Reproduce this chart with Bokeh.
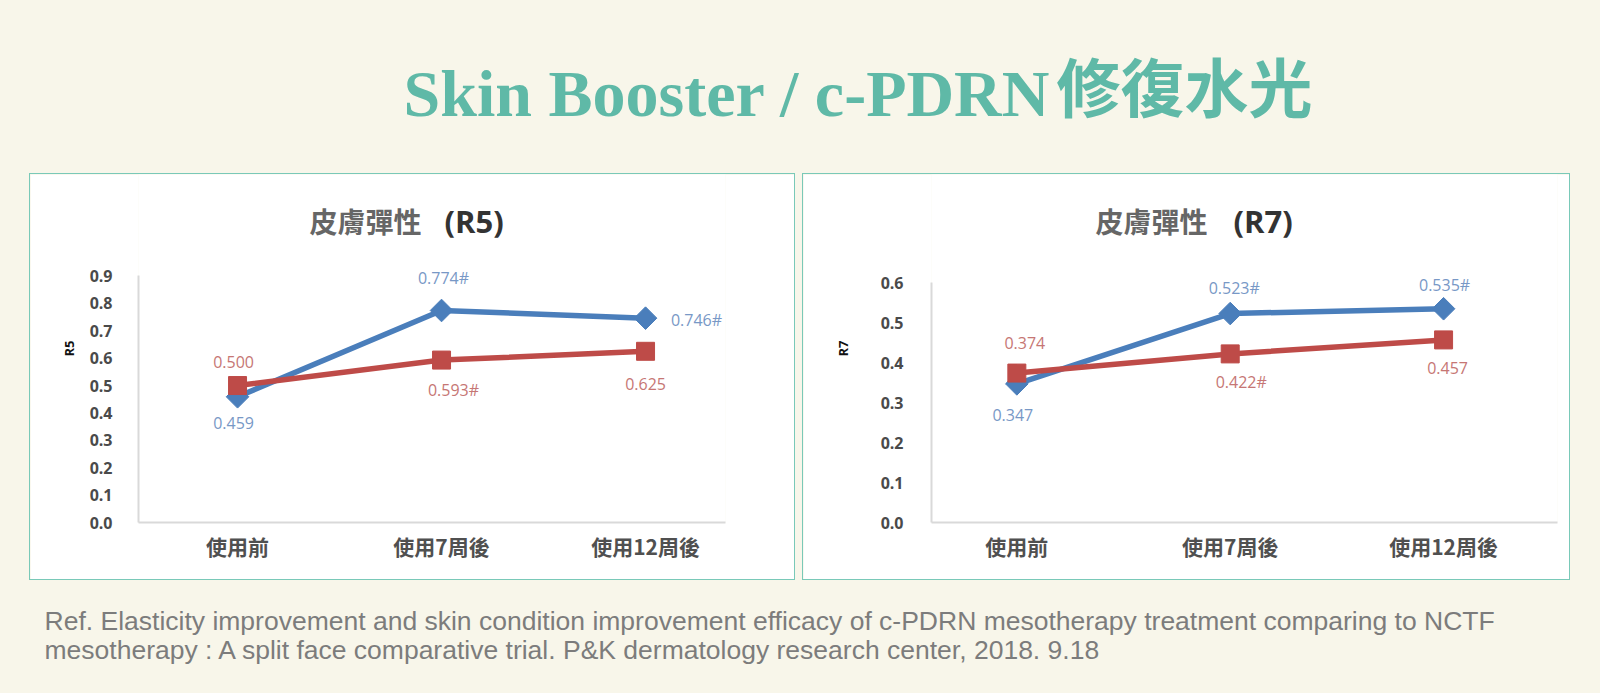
import math
from bokeh.plotting import figure
from bokeh.layouts import column, row
from bokeh.models import (ColumnDataSource, Label, FixedTicker, Range1d,
                          PrintfTickFormatter, Spacer)
from bokeh.core.properties import value
from bokeh.embed import file_html
from bokeh.resources import INLINE

BG = "#f8f6ea"
TEAL = "#5fb9a7"
BORDER = "#79c9b8"
BLUE = "#4a7ebb"
RED = "#be4b48"
BLUE_LBL = "#7898c6"
RED_LBL = "#c67674"
AXIS = "#d9d9d9"
TICK = "#4a4a4a"
CAT = "#505050"

# ---------------- data ----------------
title_latin = "Skin Booster / c-PDRN"
title_cjk = "修復水光"
categories = ["使用前", "使用7周後", "使用12周後"]
cat_pos = [0, 1, 2]

panel_name = "皮膚彈性"
r5_code = "(R5)"
r5_axis = "R5"
r5_blue = [0.459, 0.774, 0.746]
r5_red = [0.500, 0.593, 0.625]
r5_blue_mark = ["", "#", "#"]
r5_red_mark = ["", "#", ""]
r5_ticks = [0.0, 0.1, 0.2, 0.3, 0.4, 0.5, 0.6, 0.7, 0.8, 0.9]

r7_code = "(R7)"
r7_axis = "R7"
r7_blue = [0.347, 0.523, 0.535]
r7_red = [0.374, 0.422, 0.457]
r7_blue_mark = ["", "#", "#"]
r7_red_mark = ["", "#", ""]
r7_ticks = [0.0, 0.1, 0.2, 0.3, 0.4, 0.5, 0.6]

footer_lines = [
    "Ref. Elasticity improvement and skin condition improvement efficacy of c-PDRN mesotherapy treatment comparing to NCTF",
    "mesotherapy : A split face comparative trial. P&K dermatology research center, 2018. 9.18",
]

# label offsets in pixels (dx, dy downward)
r5_blue_off = [(-4, 26), (2, -32), (51, 2)]
r5_red_off = [(-4, -24), (12, 30), (0, 33)]
r7_blue_off = [(-4, 31), (4, -26), (1, -24)]
r7_red_off = [(8, -30), (11, 28), (4, 28)]


def strip(w, h, color):
    return Spacer(width=w, height=h, styles={"background-color": color})


def make_panel(w, h, code, axis_name, blue, red, bmark, rmark, ticks, xr, y_end,
               borders, title_pos, lab_standoff, axlab_standoff, boff, roff):
    p = figure(width=w, height=h, output_backend="svg", toolbar_location=None,
               x_range=Range1d(*xr), y_range=Range1d(0, y_end),
               min_border_left=borders[0], min_border_right=borders[1],
               min_border_top=borders[2], min_border_bottom=borders[3],
               background_fill_color="white", border_fill_color="white",
               outline_line_color=None)
    p.xgrid.visible = False
    p.ygrid.visible = False

    # panel title: two parts, positioned relative to the frame
    tx, ty, tx2 = title_pos
    p.add_layout(Label(x=tx, y=ty, x_units="screen", y_units="screen",
                       text=panel_name, text_font="Noto Sans CJK TC",
                       text_font_style="bold", text_font_size="28px",
                       text_color="#666666", text_baseline="middle"))
    p.add_layout(Label(x=tx2, y=ty, x_units="screen", y_units="screen",
                       text=code, text_font="Open Sans",
                       text_font_style="bold", text_font_size="31px",
                       text_color="#333333", text_baseline="middle"))

    p.xaxis.ticker = FixedTicker(ticks=cat_pos)
    p.xaxis.major_label_overrides = {c: t for c, t in zip(cat_pos, categories)}
    p.xaxis.major_label_text_font = "Noto Sans CJK TC"
    p.xaxis.major_label_text_font_style = "bold"
    p.xaxis.major_label_text_font_size = "21px"
    p.xaxis.major_label_text_color = CAT
    p.xaxis.major_label_standoff = 2

    p.yaxis.ticker = FixedTicker(ticks=ticks)
    p.yaxis.bounds = (ticks[0], ticks[-1])
    p.yaxis.formatter = PrintfTickFormatter(format="%.1f")
    p.yaxis.major_label_text_font = "Open Sans"
    p.yaxis.major_label_text_font_style = "bold"
    p.yaxis.major_label_text_font_size = "16px"
    p.yaxis.major_label_text_color = TICK
    p.yaxis.major_label_standoff = lab_standoff
    p.yaxis.axis_label = axis_name
    p.yaxis.axis_label_text_font = "Open Sans"
    p.yaxis.axis_label_text_font_style = "bold"
    p.yaxis.axis_label_text_font_size = "13px"
    p.yaxis.axis_label_text_color = "#111111"
    p.yaxis.axis_label_standoff = axlab_standoff

    for ax in (p.xaxis, p.yaxis):
        ax.axis_line_color = AXIS
        ax.axis_line_width = 2
        ax.major_tick_line_color = None
        ax.minor_tick_line_color = None

    src_b = ColumnDataSource(dict(
        x=cat_pos, y=blue,
        t=[f"{v:.3f}{m}" for v, m in zip(blue, bmark)],
        dx=[o[0] for o in boff], dy=[o[1] for o in boff]))
    src_r = ColumnDataSource(dict(
        x=cat_pos, y=red,
        t=[f"{v:.3f}{m}" for v, m in zip(red, rmark)],
        dx=[o[0] for o in roff], dy=[o[1] for o in roff]))

    p.line("x", "y", source=src_b, line_color=BLUE, line_width=5.5)
    p.scatter("x", "y", source=src_b, marker="square", angle=math.pi / 4,
              size=16, fill_color=BLUE, line_color=BLUE)
    p.line("x", "y", source=src_r, line_color=RED, line_width=5.5)
    p.scatter("x", "y", source=src_r, marker="square", size=18,
              fill_color=RED, line_color=RED)

    for src, col in ((src_b, BLUE_LBL), (src_r, RED_LBL)):
        p.text("x", "y", text="t", x_offset="dx", y_offset="dy", source=src,
               text_align="center", text_baseline="middle",
               text_font=value("Open Sans"), text_font_size="16px",
               text_color=col)
    return p


# frame spans the full inner height above the x axis (title sits inside it);
# the y axis line is limited to the tick range via bounds
left = make_panel(764, 405, r5_code, r5_axis, r5_blue, r5_red, r5_blue_mark,
                  r5_red_mark, r5_ticks, (-0.4855, 2.392), 1.2705,
                  (108, 69, 0, 57), (171, 302, 306), 20, 9,
                  r5_blue_off, r5_red_off)
right = make_panel(766, 405, r7_code, r7_axis, r7_blue, r7_red, r7_blue_mark,
                   r7_red_mark, r7_ticks, (-0.4, 2.534), 0.871,
                   (128, 12, 0, 57), (164, 302, 302), 22, 26,
                   r7_blue_off, r7_red_off)


def boxed(fig, w, h):
    return column(
        strip(w + 2, 1, BORDER),
        row(strip(1, h, BORDER), fig, strip(1, h, BORDER), spacing=0),
        strip(w + 2, 1, BORDER),
        spacing=0,
    )


# ---------------- title ----------------
tf = figure(width=1600, height=173, output_backend="svg", toolbar_location=None,
            x_range=Range1d(0, 1600), y_range=Range1d(0, 173), min_border=0,
            x_axis_location=None, y_axis_location=None,
            background_fill_color=BG, border_fill_color=BG, outline_line_color=None)
tf.grid.visible = False
tf.add_layout(Label(x=403, y=80, x_units="screen", y_units="screen", text=title_latin,
                    text_font="Liberation Serif", text_font_style="bold",
                    text_font_size="66px", text_color=TEAL, text_baseline="middle"))
tf.add_layout(Label(x=1056, y=90, x_units="screen", y_units="screen", text=title_cjk,
                    text_font="Noto Sans CJK TC", text_font_style="bold",
                    text_font_size="64px", text_color=TEAL,
                    text_baseline="middle"))

# ---------------- footer ----------------
ff = figure(width=1600, height=113, output_backend="svg", toolbar_location=None,
            x_range=Range1d(0, 1600), y_range=Range1d(0, 113), min_border=0,
            x_axis_location=None, y_axis_location=None,
            background_fill_color=BG, border_fill_color=BG, outline_line_color=None)
ff.grid.visible = False
for i, line in enumerate(footer_lines):
    ff.add_layout(Label(x=44, y=73 - 29 * i, x_units="screen", y_units="screen",
                        text=line, text_font="Liberation Sans", text_font_size="26.5px",
                        text_color="#7c7c7c", text_baseline="middle"))

mid = row(strip(29, 407, BG), boxed(left, 764, 405), strip(7, 407, BG),
          boxed(right, 766, 405), strip(30, 407, BG), spacing=0)

page = column(tf, mid, ff, spacing=0, styles={"background-color": BG})

open("out.html", "w").write(file_html(page, INLINE))
